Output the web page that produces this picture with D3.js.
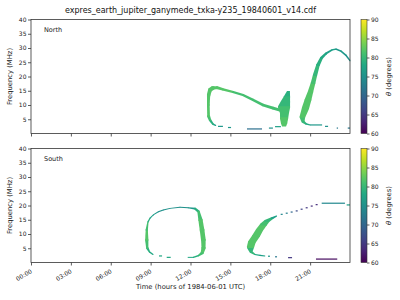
<!DOCTYPE html>
<html>
<head>
<meta charset="utf-8">
<script src="https://cdn.jsdelivr.net/npm/d3@7"></script>
<style>
  body { margin: 0; background: #fff; }
  svg { font-family: "DejaVu Sans", sans-serif; }
</style>
</head>
<body>
<svg width="400" height="300"></svg>
<script>
// samples: [hour, freq MHz, half spread hours, half spread MHz, theta deg]
const northLoop = [
  [13.90, 2.8, 0.03, 0.18, 77], [13.69, 3.3, 0.05, 0.2, 79], [13.47, 4.7, 0.08, 0.25, 81],
  [13.36, 6.1, 0.1, 0.3, 82], [13.34, 10.0, 0.1, 0.3, 82], [13.36, 13.5, 0.12, 0.4, 82],
  [13.47, 15.3, 0.12, 0.5, 82], [13.69, 16.0, 0.1, 0.55, 82], [13.99, 16.1, 0.06, 0.5, 82],
  [14.44, 15.5, 0.04, 0.38, 82], [15.20, 14.6, 0.04, 0.35, 81], [15.95, 13.5, 0.04, 0.38, 81],
  [16.70, 11.8, 0.04, 0.42, 81], [17.45, 10.0, 0.04, 0.45, 81], [18.21, 8.9, 0.04, 0.5, 81],
  [18.73, 8.2, 0.04, 0.5, 81]
];
const northFan = [
  [19.37, 14.6, 0.11, 0.3, 79], [19.26, 12.8, 0.23, 0.3, 80], [19.15, 11.1, 0.34, 0.3, 80],
  [19.04, 9.3, 0.45, 0.3, 81], [19.07, 7.5, 0.34, 0.3, 81], [19.04, 5.4, 0.3, 0.3, 82],
  [19.04, 3.7, 0.23, 0.3, 82], [19.04, 2.8, 0.15, 0.3, 81]
];
const northArc = [
  [20.46, 4.4, 0.12, 0.3, 81], [20.42, 5.8, 0.2, 0.3, 82], [20.65, 8.9, 0.26, 0.3, 82],
  [20.84, 11.8, 0.24, 0.3, 82], [21.03, 14.6, 0.19, 0.3, 82], [21.22, 17.7, 0.16, 0.3, 81],
  [21.37, 20.5, 0.15, 0.3, 80], [21.59, 24.0, 0.12, 0.3, 79], [21.86, 26.5, 0.09, 0.3, 78],
  [22.19, 28.1, 0.06, 0.25, 77], [22.65, 29.3, 0.04, 0.22, 77], [22.95, 29.6, 0.04, 0.22, 76],
  [23.32, 28.9, 0.04, 0.22, 76], [23.70, 27.4, 0.04, 0.22, 75], [24.0, 25.6, 0.03, 0.22, 75]
];
const northArcTail = [
  [20.46, 4.2, 0.1, 0.3, 80], [20.69, 3.4, 0.05, 0.22, 78], [21.0, 3.0, 0.03, 0.18, 77]
];
// dashes: [start hour, end hour, freq MHz, theta deg]
const northDashes = [
  [14.07, 14.44, 2.5, 76], [14.82, 15.05, 2.1, 76], [16.25, 17.38, 1.6, 71],
  [17.90, 18.20, 1.9, 75], [18.36, 18.80, 2.4, 77],
  [21.0, 21.9, 3.0, 76], [22.12, 22.35, 2.5, 75], [23.0, 23.1, 1.9, 72], [23.83, 24.0, 1.9, 72]
];

const southLoop = [
  [9.18, 2.8, 0.03, 0.18, 78], [8.92, 3.7, 0.04, 0.2, 79], [8.75, 5.1, 0.08, 0.25, 81],
  [8.71, 7.9, 0.12, 0.3, 82], [8.71, 11.4, 0.08, 0.3, 81], [8.80, 14.2, 0.04, 0.2, 79],
  [8.95, 15.5, 0.03, 0.16, 77], [9.20, 16.7, 0.02, 0.16, 76], [9.58, 17.8, 0.02, 0.16, 75],
  [9.95, 18.4, 0.02, 0.16, 75], [10.46, 19.0, 0.02, 0.16, 75], [11.21, 19.4, 0.02, 0.16, 75],
  [11.83, 19.2, 0.03, 0.18, 76], [12.34, 18.9, 0.05, 0.3, 79], [12.60, 17.9, 0.08, 0.3, 81],
  [12.75, 14.9, 0.15, 0.3, 82], [12.87, 11.4, 0.17, 0.3, 82], [12.97, 7.9, 0.17, 0.3, 82],
  [12.98, 5.1, 0.15, 0.3, 82], [12.87, 3.3, 0.1, 0.3, 81], [12.60, 2.4, 0.04, 0.2, 79],
  [12.21, 1.8, 0.02, 0.18, 78], [11.81, 1.8, 0.02, 0.18, 78]
];
const southArc = [
  [16.55, 3.7, 0.08, 0.3, 80], [16.51, 5.4, 0.26, 0.3, 82], [16.62, 7.2, 0.28, 0.3, 82],
  [16.93, 9.3, 0.28, 0.3, 82], [17.19, 11.4, 0.26, 0.3, 82], [17.49, 13.3, 0.24, 0.3, 81],
  [17.76, 14.6, 0.18, 0.3, 80], [18.14, 15.6, 0.1, 0.22, 77], [18.48, 16.3, 0.03, 0.18, 75]
];
const southArcTail = [
  [16.55, 3.7, 0.08, 0.3, 80], [16.85, 2.8, 0.03, 0.18, 78], [17.23, 2.5, 0.02, 0.18, 77],
  [17.60, 2.3, 0.02, 0.18, 76]
];
// dots: [hour, freq MHz, theta deg]
const southDots = [
  [18.86, 16.9, 74], [19.24, 17.3, 73], [19.61, 17.7, 70], [19.99, 18.1, 67],
  [20.36, 18.7, 66], [20.74, 19.2, 65], [21.12, 19.8, 64], [21.49, 20.3, 64]
];
const southDashes = [
  [10.21, 10.51, 1.8, 78], [9.63, 9.86, 2.3, 78],
  [17.83, 17.98, 2.2, 76], [18.36, 18.51, 2.0, 72], [19.34, 19.64, 1.7, 65],
  [21.44, 23.04, 1.2, 61], [21.87, 23.62, 20.8, 74], [23.75, 24.0, 20.2, 77]
];

const freqTicks = [5, 10, 15, 20, 25, 30, 35, 40];
const hourTicks = [0, 3, 6, 9, 12, 15, 18, 21];
const thetaTicks = [60, 65, 70, 75, 80, 85, 90];

const svg = d3.select("svg");
const x = d3.scaleLinear().domain([0, 24]).range([31, 350]);
const color = d3.scaleSequential(d3.interpolateViridis).domain([60, 90]);

const panels = [
  { name: "North", top: 19.5, bottom: 133.5, bands: [northLoop, northFan, northArc, northArcTail], dashes: northDashes, dots: [] },
  { name: "South", top: 148.5, bottom: 262.5, bands: [southLoop, southArc, southArcTail], dashes: southDashes, dots: southDots }
];

// gradient for colorbars
const grad = svg.append("defs").append("linearGradient")
  .attr("id", "viridis").attr("x1", 0).attr("y1", 1).attr("x2", 0).attr("y2", 0);
d3.range(0, 1.01, 0.1).forEach((t) => {
  grad.append("stop").attr("offset", t).attr("stop-color", d3.interpolateViridis(t));
});

function drawBand(g, samples, y) {
  const boxes = samples.map(([t, f, dt, df, th]) => ({
    pts: [[x(t - dt), y(f + df)], [x(t + dt), y(f + df)], [x(t + dt), y(f - df)], [x(t - dt), y(f - df)]],
    th
  }));
  for (let i = 0; i < boxes.length - 1; i++) {
    const hull = d3.polygonHull(boxes[i].pts.concat(boxes[i + 1].pts));
    g.append("path")
      .attr("d", "M" + hull.join("L") + "Z")
      .attr("fill", color(boxes[i].th));
  }
}

panels.forEach((p, pi) => {
  const y = d3.scaleLinear().domain([0, 40]).range([p.bottom, p.top]);
  const g = svg.append("g");

  const marks = g.append("g");
  p.bands.forEach((b) => drawBand(marks, b, y));

  marks.selectAll(".dash")
    .data(p.dashes)
    .enter()
    .append("rect")
    .attr("x", (d) => x(d[0]))
    .attr("width", (d) => x(d[1]) - x(d[0]))
    .attr("y", (d) => y(d[2]) - 0.6)
    .attr("height", 1.2)
    .attr("fill", (d) => color(d[3]));

  marks.selectAll(".dot")
    .data(p.dots)
    .enter()
    .append("rect")
    .attr("x", (d) => x(d[0]) - 1)
    .attr("width", 2)
    .attr("y", (d) => y(d[1]) - 0.6)
    .attr("height", 1.2)
    .attr("fill", (d) => color(d[2]));

  // frame
  g.append("rect")
    .attr("x", 31).attr("y", p.top)
    .attr("width", 319).attr("height", p.bottom - p.top)
    .attr("fill", "none").attr("stroke", "#333").attr("stroke-width", 0.8);

  const yAxis = g.append("g")
    .attr("transform", "translate(31,0)")
    .call(d3.axisLeft(y).tickValues(freqTicks).tickSize(3).tickPadding(1.5));
  yAxis.select(".domain").remove();

  const xAxis = g.append("g")
    .attr("transform", `translate(0,${p.bottom})`)
    .call(d3.axisBottom(x).tickValues(hourTicks).tickSize(3)
      .tickFormat((d) => (pi === 1 ? String(d).padStart(2, "0") + ":00" : "")));
  xAxis.select(".domain").remove();
  xAxis.selectAll("text")
    .attr("text-anchor", "end")
    .attr("y", 0).attr("dy", 0)
    .attr("transform", "translate(1,10) rotate(-30)");

  [yAxis, xAxis].forEach((a) => {
    a.selectAll("text").attr("font-size", 6).attr("fill", "#222").attr("font-family", "DejaVu Sans");
    a.selectAll("line").attr("stroke", "#333").attr("stroke-width", 0.8);
  });

  g.append("text")
    .attr("x", 44).attr("y", p.top + 12.5)
    .attr("font-size", 6.5).attr("fill", "#222")
    .text(p.name);

  g.append("text")
    .attr("transform", `translate(12,${(p.top + p.bottom) / 2}) rotate(-90)`)
    .attr("text-anchor", "middle")
    .attr("font-size", 6.8).attr("fill", "#222")
    .text("Frequency (MHz)");

  // colorbar
  const cy = d3.scaleLinear().domain([60, 90]).range([p.bottom, p.top]);
  g.append("rect")
    .attr("x", 361).attr("y", p.top)
    .attr("width", 6).attr("height", p.bottom - p.top)
    .attr("fill", "url(#viridis)")
    .attr("stroke", "#333").attr("stroke-width", 0.6);
  const cAxis = g.append("g")
    .attr("transform", "translate(367,0)")
    .call(d3.axisRight(cy).tickValues(thetaTicks).tickSize(2.5).tickPadding(1.5));
  cAxis.select(".domain").remove();
  cAxis.selectAll("text").attr("font-size", 6).attr("fill", "#222").attr("font-family", "DejaVu Sans");
  cAxis.selectAll("line").attr("stroke", "#333").attr("stroke-width", 0.8);

  const cl = g.append("text")
    .attr("transform", `translate(391,${(p.top + p.bottom) / 2}) rotate(-90)`)
    .attr("text-anchor", "middle")
    .attr("font-size", 6.8).attr("fill", "#222");
  cl.append("tspan").attr("font-style", "italic").text("θ");
  cl.append("tspan").text(" (degrees)");
});

svg.append("text")
  .attr("x", 190.5).attr("y", 13)
  .attr("text-anchor", "middle")
  .attr("font-size", 8).attr("fill", "#111")
  .text("expres_earth_jupiter_ganymede_txka-y235_19840601_v14.cdf");

svg.append("text")
  .attr("x", 190.5).attr("y", 289)
  .attr("text-anchor", "middle")
  .attr("font-size", 6.8).attr("fill", "#222")
  .text("Time (hours of 1984-06-01 UTC)");
</script>
</body>
</html>
